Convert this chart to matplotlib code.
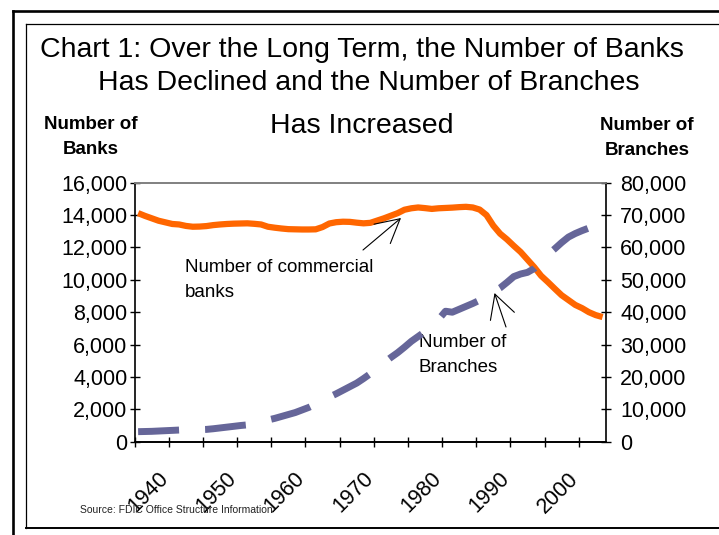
import matplotlib
matplotlib.use("Agg")
import matplotlib.pyplot as plt
from matplotlib.lines import Line2D
from matplotlib.ticker import FuncFormatter, FixedLocator
from matplotlib.transforms import ScaledTranslation

plt.rcParams['font.family'] = ['Liberation Sans', 'DejaVu Sans']

# ---------------- data ----------------
bank_years = list(range(1936, 2005))
banks = [14120, 13950, 13800, 13650, 13550, 13450, 13420, 13330, 13280, 13290,
         13320, 13380, 13420, 13450, 13470, 13480, 13490, 13460, 13420, 13280,
         13220, 13170, 13130, 13120, 13110, 13110, 13120, 13260, 13480, 13560,
         13590, 13580, 13530, 13490, 13520, 13660, 13800, 13960, 14120, 14330,
         14420, 14470, 14430, 14380, 14420, 14440, 14460, 14490, 14510, 14470,
         14340, 14000, 13350, 12850, 12500, 12100, 11720, 11250, 10780, 10250,
         9860, 9450, 9050, 8750, 8450, 8250, 8000, 7820, 7700]

branch_years = list(range(1936, 2003))
branches = [3100, 3150, 3200, 3300, 3400, 3500, 3600, 3650, 3700, 3750,
            3800, 4000, 4250, 4500, 4750, 5000, 5200, 5700, 6200, 6700,
            7200, 7800, 8400, 9000, 9800, 10600, 11600, 12700, 13800, 14800,
            15900, 17000, 18100, 19500, 21000, 22700, 24400, 26000, 27500, 29200,
            31000, 32500, 34000, 35800, 37800, 40300, 40000, 40900, 41800, 42700,
            43700, 45000, 46200, 47500, 49200, 51000, 51800, 52300, 53500, 55700,
            57800, 59600, 61500, 63200, 64300, 65200, 66000]

x_labels = [1940, 1950, 1960, 1970, 1980, 1990, 2000]
left_ticks = [0, 2000, 4000, 6000, 8000, 10000, 12000, 14000, 16000]
right_ticks = [0, 10000, 20000, 30000, 40000, 50000, 60000, 70000, 80000]

title_lines = ["Chart 1: Over the Long Term, the Number of Banks",
               "Has Declined and the Number of Branches",
               "Has Increased"]

# ---------------- layout helpers ----------------
W, H = 719, 535
fig = plt.figure(figsize=(W / 100, H / 100), dpi=100)
fig.patch.set_facecolor('white')

def fx(px):
    return px / W

def fy(py):
    return 1 - py / H

ax_l, ax_r, ax_t, ax_b = 134.7, 606.0, 182.7, 441.7
ax = fig.add_axes([fx(ax_l), fy(ax_b), fx(ax_r) - fx(ax_l), fy(ax_t) - fy(ax_b)])
ax2 = ax.twinx()

ax.plot(bank_years, banks, color='#FF6600', lw=4.5, solid_capstyle='butt',
        solid_joinstyle='round', zorder=3)
ax2.plot(branch_years, branches, color='#666699', lw=5,
         linestyle=(0, (5.9, 3.75)), dash_capstyle='butt', zorder=2)

ax.set_xlim(1935.5, 2004.5)
ax.set_ylim(0, 16000)
ax2.set_ylim(0, 80000)

fmt = FuncFormatter(lambda v, p: f"{int(v):,}")
ax.yaxis.set_major_locator(FixedLocator(left_ticks))
ax.yaxis.set_major_formatter(fmt)
ax2.yaxis.set_major_locator(FixedLocator(right_ticks))
ax2.yaxis.set_major_formatter(fmt)

# x ticks: marks every 5 years (at category boundaries), labels every 10
ax.xaxis.set_major_locator(FixedLocator([1935.5 + 5 * k for k in range(14)]))
ax.xaxis.set_major_formatter(FuncFormatter(lambda v, p: ""))
ax.xaxis.set_minor_locator(FixedLocator(x_labels))
ax.set_xticklabels([str(v) for v in x_labels], minor=True, rotation=45,
                   ha='right', va='top', fontsize=15.5)
ax.tick_params(axis='x', which='minor', length=0, pad=19)
ax.tick_params(axis='x', which='major', direction='inout', length=6.5, width=1)
shift = ScaledTranslation(7 / 100, 0, fig.dpi_scale_trans)
for lab in ax.get_xticklabels(minor=True):
    lab.set_transform(lab.get_transform() + shift)

ax.tick_params(axis='y', direction='inout', length=6.5, width=1, labelsize=15.5, pad=2)
ax2.tick_params(axis='y', direction='inout', length=6.5, width=1, labelsize=15.5, pad=7)

for a in (ax, ax2):
    for s in ('left', 'right', 'bottom'):
        a.spines[s].set_color('black')
        a.spines[s].set_linewidth(1.2)
    a.spines['top'].set_color('#808080')
    a.spines['top'].set_linewidth(1.2)
ax2.spines['left'].set_visible(False)
ax.spines['right'].set_visible(False)

# ---------------- annotations ----------------
ann_font = 13.5
def to_data(px, py):
    # convert reference pixel to axes data coordinates (left axis)
    xd = 1935.5 + (px - ax_l) / (ax_r - ax_l) * 69
    yd = (ax_b - py) / (ax_b - ax_t) * 16000
    return xd, yd

p = to_data(184.8, 271.7)
ax.text(p[0], p[1], "Number of commercial", fontsize=ann_font, ha='left', va='baseline')
p = to_data(184.8, 296.7)
ax.text(p[0], p[1], "banks", fontsize=ann_font, ha='left', va='baseline')
p = to_data(419, 346.7)
ax.text(p[0], p[1], "Number of", fontsize=ann_font, ha='left', va='baseline', zorder=5)
p = to_data(419, 371.7)
ax.text(p[0], p[1], "Branches", fontsize=ann_font, ha='left', va='baseline', zorder=5)

arrow = dict(arrowstyle='->,head_length=1.3,head_width=0.7', color='black',
             lw=0.8, shrinkA=0, shrinkB=0, mutation_scale=13)
ax.annotate('', xy=to_data(401, 218), xytext=to_data(363, 250), arrowprops=arrow, zorder=6)
ax.annotate('', xy=to_data(494.5, 293), xytext=to_data(506, 327), arrowprops=arrow, zorder=6)

# ---------------- titles and axis labels ----------------
fig.text(fx(361.5), fy(57), title_lines[0], fontsize=20.5, ha='center', va='baseline')
fig.text(fx(369), fy(90), title_lines[1], fontsize=20.5, ha='center', va='baseline')
fig.text(fx(361.5), fy(133), title_lines[2], fontsize=20.5, ha='center', va='baseline')

fig.text(fx(90.5), fy(129), "Number of", fontsize=13.5, fontweight='bold', ha='center', va='baseline')
fig.text(fx(90.5), fy(154), "Banks", fontsize=13.5, fontweight='bold', ha='center', va='baseline')
fig.text(fx(647), fy(130), "Number of", fontsize=13.5, fontweight='bold', ha='center', va='baseline')
fig.text(fx(647), fy(155), "Branches", fontsize=13.5, fontweight='bold', ha='center', va='baseline')

fig.text(fx(80), fy(513), "Source: FDIC Office Structure Information", fontsize=7.5,
         ha='left', va='baseline', color='#222222', zorder=10)

# ---------------- frames ----------------
fig.add_artist(Line2D([fx(13), 1.0], [fy(11), fy(11)], transform=fig.transFigure, color='black', lw=1.9))
fig.add_artist(Line2D([fx(13), fx(13)], [fy(11), 0.0], transform=fig.transFigure, color='black', lw=1.9))
fig.add_artist(Line2D([fx(26), 1.0], [fy(24), fy(24)], transform=fig.transFigure, color='black', lw=0.9))
fig.add_artist(Line2D([fx(26), fx(26)], [fy(24), fy(527.5)], transform=fig.transFigure, color='black', lw=0.9))
fig.add_artist(Line2D([fx(26), 1.0], [fy(527.5), fy(527.5)], transform=fig.transFigure, color='black', lw=1.4))

fig.savefig("out.png", dpi=100, facecolor='white')
